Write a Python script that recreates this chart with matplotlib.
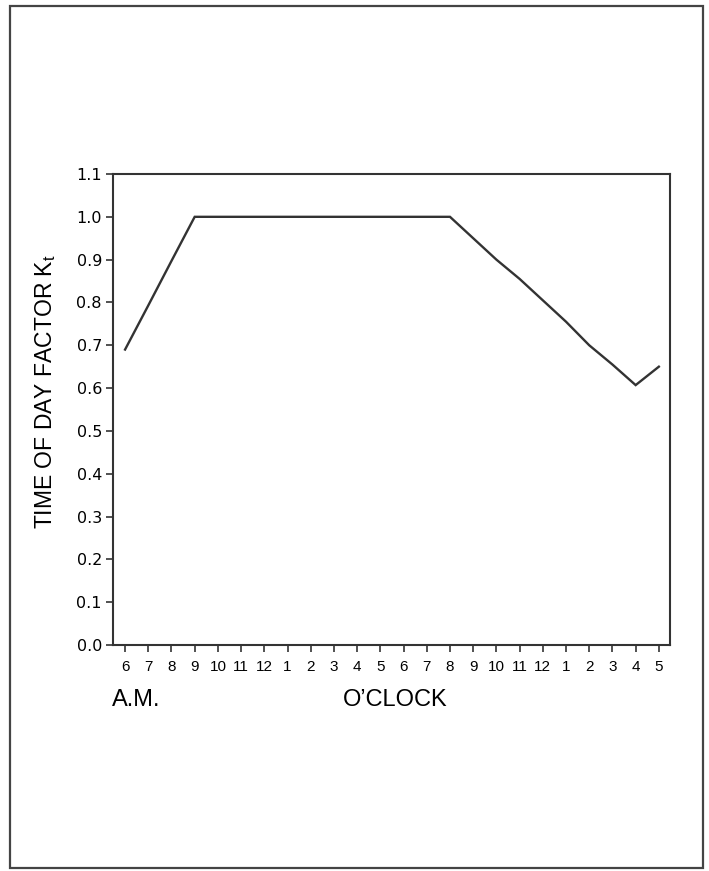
import matplotlib
matplotlib.use("Agg")
import matplotlib.pyplot as plt
from matplotlib.patches import Rectangle

hour_labels = ["6", "7", "8", "9", "10", "11", "12", "1", "2", "3", "4", "5",
               "6", "7", "8", "9", "10", "11", "12", "1", "2", "3", "4", "5"]
factor_kt = [0.69, 0.793, 0.897, 1.0, 1.0, 1.0, 1.0, 1.0, 1.0, 1.0, 1.0, 1.0,
             1.0, 1.0, 1.0, 0.95, 0.90, 0.855, 0.805, 0.755, 0.70, 0.655, 0.607, 0.65]
y_ticks = [0.0, 0.1, 0.2, 0.3, 0.4, 0.5, 0.6, 0.7, 0.8, 0.9, 1.0, 1.1]

plt.rcParams['font.family'] = ['Liberation Sans', 'DejaVu Sans']

fig = plt.figure(figsize=(7.09, 8.71), dpi=100)
fig.patches.append(Rectangle((10/709, 1-868/871), 693/709, 862/871,
                             transform=fig.transFigure, fill=False,
                             edgecolor='#444444', linewidth=1.6))

ax = fig.add_axes([113/709, 1-645/871, 557/709, 471/871])
x = list(range(len(hour_labels)))
ax.plot(x, factor_kt, color='#333333', linewidth=1.7, solid_joinstyle='miter')

ax.set_xlim(-0.52, 23.48)
ax.set_ylim(0, 1.1)
ax.set_xticks(x)
ax.set_xticklabels(hour_labels, fontsize=11)
ax.set_yticks(y_ticks)
ax.set_yticklabels([f"{v:.1f}" for v in y_ticks], fontsize=11.5, family='DejaVu Sans')
ax.tick_params(axis='both', direction='out', length=5, width=1.2, color='#333333')
ax.tick_params(axis='x', pad=6)
ax.tick_params(axis='y', pad=3)
for s in ax.spines.values():
    s.set_color('#333333')
    s.set_linewidth(1.5)

ax.set_ylabel("TIME OF DAY FACTOR K$_{\\mathregular{t}}$", fontsize=16.5)
ax.yaxis.set_label_coords(-0.099, 0.537)

fig.text(112/709, 1-700/871, "A.M.", fontsize=17, ha='left', va='center')
fig.text(395/709, 1-700/871, "O\u2019CLOCK", fontsize=17, ha='center', va='center')

fig.savefig("out.png", dpi=100)
